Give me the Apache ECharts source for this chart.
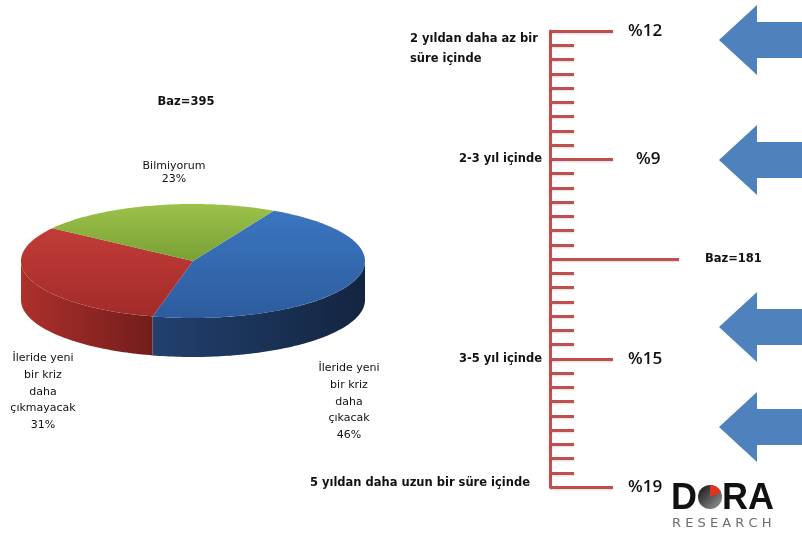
<!DOCTYPE html>
<html>
<head>
<meta charset="utf-8">
<script src="https://cdn.jsdelivr.net/npm/echarts@6/dist/echarts.min.js"></script>
<style>
html, body { margin: 0; padding: 0; background: #fff; }
#main { width: 802px; height: 540px; }
</style>
</head>
<body>
<div id="main"></div>
<script>
// pasta: yeni kriz beklentisi
const pieNames = ['İleride yeni\nbir kriz\ndaha\nçıkacak', 'İleride yeni\nbir kriz\ndaha\nçıkmayacak', 'Bilmiyorum'];
const pieValues = [46, 31, 23];
const pieBase = 395;

// cetvel: ne zaman
const periodLabels = ['2 yıldan daha az bir\nsüre içinde', '2-3 yıl içinde', '3-5 yıl içinde', '5 yıldan daha uzun bir süre içinde'];
const periodTicks = [0, 9, 23, 32];
const periodShares = [12, 9, 15, 19];
const rulerBase = 181;
const baseTick = 16;
const tickCount = 33;

const RED = '#c0504d';
const BLUE = '#4f81bd';
const FONT = 'DejaVu Sans';

// egik pasta geometrisi
const PIE = { cx: 193, cy: 261, rx: 172, ry: 57, depth: 39, start: -62 * Math.PI / 180 };

function grad(x0, y0, x1, y1, c0, c1) {
    return { type: 'linear', x: x0, y: y0, x2: x1, y2: y1, colorStops: [{ offset: 0, color: c0 }, { offset: 1, color: c1 }] };
}
const topFill = [
    grad(0, 0, 0, 1, '#3b76c0', '#2d5c9e'),
    grad(0, 0, 0, 1, '#c23c38', '#a22b29'),
    grad(0, 0, 0, 1, '#9dc24a', '#78a035')
];
const sideFill = [
    grad(0, 0, 1, 0, '#22416f', '#13243f'),
    grad(0, 0, 1, 0, '#ad302c', '#721d1b'),
    grad(0, 0, 1, 0, '#6f9030', '#4f6a20')
];

function arcPts(a, b, dy) {
    const n = Math.max(2, Math.ceil(Math.abs(b - a) / 0.02));
    const pts = [];
    for (let k = 0; k <= n; k++) {
        const t = a + (b - a) * k / n;
        pts.push([PIE.cx + PIE.rx * Math.cos(t), PIE.cy + PIE.ry * Math.sin(t) + dy]);
    }
    return pts;
}

function renderSlice(params, api) {
    const i = params.dataIndex;
    const total = pieValues.reduce((s, v) => s + v, 0);
    let before = 0;
    for (let k = 0; k < i; k++) before += pieValues[k];
    const a = PIE.start + before / total * 2 * Math.PI;
    const b = a + api.value(0) / total * 2 * Math.PI;
    const children = [];
    // yan duvar: sadece on yari
    [0, 2 * Math.PI].forEach(off => {
        const s = Math.max(a, off), e = Math.min(b, off + Math.PI);
        if (e > s) {
            const top = arcPts(s, e, 0);
            const bottom = arcPts(s, e, PIE.depth).reverse();
            children.push({ type: 'polygon', z2: 1, shape: { points: top.concat(bottom) }, style: { fill: sideFill[i] } });
        }
    });
    children.push({
        type: 'polygon', z2: 2,
        shape: { points: [[PIE.cx, PIE.cy]].concat(arcPts(a, b, 0)) },
        style: { fill: topFill[i] }
    });
    return { type: 'group', children: children };
}

const rulerCats = [];
const shareCats = [];
const baseCats = [];
for (let i = 0; i < tickCount; i++) {
    const p = periodTicks.indexOf(i);
    rulerCats.push(p >= 0 ? periodLabels[p] : '');
    shareCats.push(p >= 0 ? '%' + periodShares[p] : '');
    baseCats.push(i === baseTick ? 'Baz=' + rulerBase : '');
}
// ilk ve son etiketler biraz farkli duruyor
rulerCats[0] = { value: rulerCats[0], textStyle: { verticalAlign: 'top', lineHeight: 20, padding: [-2, 0, 0, 0] } };
rulerCats[32] = { value: rulerCats[32], textStyle: { padding: [0, 12, 8, 0] } };
shareCats[9] = { value: shareCats[9], textStyle: { padding: [0, 0, 0, 8] } };
shareCats[32] = { value: shareCats[32], textStyle: { padding: [10, 0, 0, 0] } };

function rulerAxis(extra) {
    const base = {
        type: 'category', data: rulerCats, inverse: true, boundaryGap: false, position: 'left',
        axisLine: { show: false, onZero: false },
        axisTick: { show: false },
        axisLabel: { show: false },
        splitLine: { show: false }
    };
    return Object.assign(base, extra);
}
const tickStyle = { color: RED, width: 3, shadowColor: 'rgba(0,0,0,0.15)', shadowBlur: 2, shadowOffsetY: 1 };

let myChart = echarts.init(document.getElementById('main'));
myChart.setOption({
    backgroundColor: '#fff',
    animation: false,
    grid: { left: 550, top: 31, height: 456, right: 0 },
    xAxis: { type: 'value', min: 0, max: 252, show: false },
    yAxis: [
        rulerAxis({
            axisLine: { show: true, onZero: false, lineStyle: tickStyle },
            axisTick: { show: true, inside: true, length: 24, interval: 0, lineStyle: tickStyle }
        }),
        rulerAxis({
            axisTick: {
                show: true, inside: true, length: 63, lineStyle: tickStyle,
                interval: (idx) => periodTicks.indexOf(idx) >= 0
            },
            axisLabel: {
                show: true, interval: 0, margin: 8, color: '#111',
                fontFamily: FONT, fontWeight: 'bold', fontSize: 11.5,
                formatter: (value, idx) => idx === 0
                    ? value.split('\n').map(s => '{w|' + s + '}').join('\n')
                    : value,
                rich: { w: { width: 132, align: 'left', fontFamily: FONT, fontWeight: 'bold', fontSize: 11.5, color: '#111', lineHeight: 20 } }
            }
        }),
        rulerAxis({
            axisTick: {
                show: true, inside: true, length: 129, lineStyle: tickStyle,
                interval: (idx) => idx === baseTick
            }
        }),
        rulerAxis({
            data: shareCats, offset: -78,
            axisLabel: { show: true, inside: true, interval: 0, margin: 0, color: '#111', fontFamily: 'Open Sans', fontWeight: 600, fontSize: 17 }
        }),
        rulerAxis({
            data: baseCats, offset: -155,
            axisLabel: { show: true, inside: true, interval: 0, margin: 0, color: '#111', fontFamily: FONT, fontWeight: 'bold', fontSize: 11.5 }
        })
    ],
    series: [{
        type: 'custom',
        coordinateSystem: 'none',
        renderItem: renderSlice,
        data: pieValues.map((v, i) => ({ value: v, name: pieNames[i] })),
        silent: true
    }],
    graphic: [
        { type: 'text', x: 186, y: 96, style: { text: 'Baz=' + pieBase, font: 'bold 11.5px "DejaVu Sans"', fill: '#111', align: 'center' } },
        { type: 'text', x: 174, y: 160, style: { text: pieNames[2] + '\n' + pieValues[2] + '%', font: '11px "DejaVu Sans"', fill: '#111', align: 'center', lineHeight: 13 } },
        { type: 'text', x: 43, y: 350, style: { text: pieNames[1] + '\n' + pieValues[1] + '%', font: '11px "DejaVu Sans"', fill: '#111', align: 'center', lineHeight: 16.7 } },
        { type: 'text', x: 349, y: 360, style: { text: pieNames[0] + '\n' + pieValues[0] + '%', font: '11px "DejaVu Sans"', fill: '#111', align: 'center', lineHeight: 16.7 } },
        // oklar
        ...[40, 160, 327, 427].map(y => ({
            type: 'polygon',
            shape: { points: [[719, y], [757, y - 35], [757, y - 18], [802, y - 18], [802, y + 18], [757, y + 18], [757, y + 35]] },
            style: { fill: BLUE }
        })),
        // logo
        { type: 'text', x: 671, y: 481, style: { text: 'D', font: 'bold 36px "Liberation Sans"', fill: '#111' } },
        { type: 'circle', shape: { cx: 710, cy: 497, r: 12 }, style: { fill: grad(0, 0, 1, 1, '#111', '#9a9a9a') } },
        { type: 'sector', shape: { cx: 710, cy: 497, r: 12, startAngle: -Math.PI / 2, endAngle: -Math.PI / 8 }, style: { fill: '#e0321e' } },
        { type: 'text', x: 722, y: 481, style: { text: 'RA', font: 'bold 36px "Liberation Sans"', fill: '#111' } },
        { type: 'text', x: 672, y: 517, style: { text: 'R E S E A R C H', font: '13px "DejaVu Sans"', fill: '#6d6d6d' } }
    ]
});
</script>
</body>
</html>
